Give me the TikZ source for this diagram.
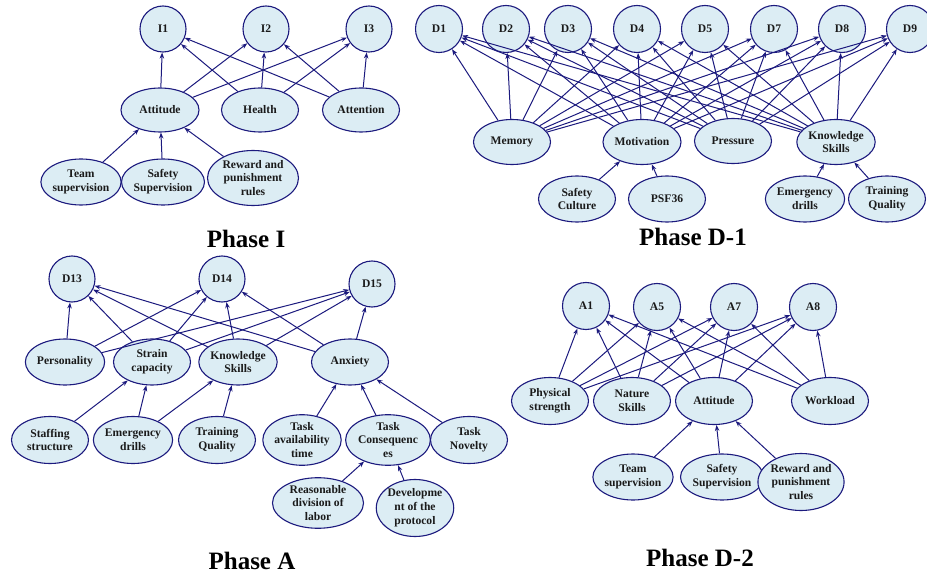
\documentclass[tikz,border=0pt]{standalone}
\usepackage{fontspec}
\setmainfont{Liberation Serif}
\usetikzlibrary{shapes.geometric,arrows.meta}
\definecolor{nodefill}{HTML}{DCEDF4}
\definecolor{navy}{HTML}{1C1A7E}
\definecolor{ink}{HTML}{1A1A1A}

\tikzset{
  var/.style={ellipse, draw=navy, fill=nodefill, line width=1.1pt,
    minimum width=77pt, minimum height=46pt, inner sep=0pt, align=center,
    font=\fontsize{11.6}{13.8}\selectfont\bfseries, text=ink},
  tgt/.style={circle, draw=navy, fill=nodefill, line width=1.1pt,
    minimum size=46pt, inner sep=0pt,
    font=\fontsize{11.6}{13.8}\selectfont\bfseries, text=ink},
  link/.style={draw=navy, line width=1pt, -{Stealth[length=6pt,width=4.5pt]}},
  phasetitle/.style={font=\fontsize{25}{30}\selectfont\bfseries, text=black}
}

\begin{document}
\begin{tikzpicture}[x=1pt,y=-1pt]
\useasboundingbox[fill=white] (0,0) rectangle (927,575);

% ---------------- Phase I ----------------
\node[tgt] (i1) at (163,29) {I1};
\node[tgt] (i2) at (266,29) {I2};
\node[tgt] (i3) at (369,29) {I3};
\node[var, minimum width=78pt, minimum height=44pt] (iatt) at (160,110) {Attitude};
\node[var, minimum height=44pt] (ihea) at (260,110) {Health};
\node[var, minimum height=44pt] (iatn) at (361,110) {Attention};
\node[var] (iteam) at (81,182) {Team\\supervision};
\node[var] (isafe) at (163,182) {Safety\\Supervision};
\node[var, minimum width=91pt, minimum height=55pt] (irew) at (253,178) {Reward and\\punishment\\rules};
\node[phasetitle] (tI) at (246,239) {Phase I};
\foreach \s in {iatt,ihea,iatn}
  \foreach \t in {i1,i2,i3}
    \draw[link] (\s) -- (\t);
\foreach \s in {iteam,isafe,irew}
  \draw[link] (\s) -- (iatt);

% ---------------- Phase D-1 ----------------
\node[tgt, minimum size=47pt] (d1) at (439,29) {D1};
\node[tgt, minimum size=47pt] (d2) at (506,29) {D2};
\node[tgt, minimum size=47pt] (d3) at (568,29) {D3};
\node[tgt, minimum size=47pt] (d4) at (637,29) {D4};
\node[tgt, minimum size=47pt] (d5) at (705,29) {D5};
\node[tgt, minimum size=47pt] (d7) at (774,29) {D7};
\node[tgt, minimum size=47pt] (d8) at (842,29) {D8};
\node[tgt, minimum size=47pt] (d9) at (910,29) {D9};
\node[var, minimum height=45pt] (dmem) at (512,142) {Memory};
\node[var, minimum width=78pt, minimum height=45pt] (dmot) at (642,142) {Motivation};
\node[var, minimum height=45pt] (dpre) at (733,141) {Pressure};
\node[var, minimum height=45pt] (dks) at (836,142) {Knowledge\\Skills};
\node[var] (dsc) at (577,199) {Safety\\Culture};
\node[var] (dpsf) at (667,199) {PSF36};
\node[var] (dem) at (805,199) {Emergency\\drills};
\node[var] (dtq) at (887,199) {Training\\Quality};
\node[phasetitle] (tD1) at (693,237) {Phase D-1};
\foreach \s in {dmem,dmot,dpre,dks}
  \foreach \t in {d1,d2,d3,d4,d5,d7,d8,d9}
    \draw[link] (\s) -- (\t);
\draw[link] (dsc) -- (dmot);
\draw[link] (dpsf) -- (dmot);
\draw[link] (dem) -- (dks);
\draw[link] (dtq) -- (dks);

% ---------------- Phase A ----------------
\node[tgt] (a13) at (72,279) {D13};
\node[tgt] (a14) at (222,279) {D14};
\node[tgt] (a15) at (372,284) {D15};
\node[var] (aper) at (65,362) {Personality};
\node[var] (astr) at (152,362) {Strain\\capacity};
\node[var] (aks) at (238,362) {Knowledge\\Skills};
\node[var] (aanx) at (350,362) {Anxiety};
\node[var, minimum height=47pt] (astaff) at (50,440) {Staffing\\structure};
\node[var, minimum height=47pt] (aem) at (133,440) {Emergency\\drills};
\node[var, minimum height=47pt] (atq) at (217,440) {Training\\Quality};
\node[var, minimum height=47pt] (atat) at (302,440) {Task\\availability\\time};
\node[var, minimum height=47pt] (atc) at (388,440) {Task\\Consequenc\\es};
\node[var, minimum height=47pt] (atn) at (469,440) {Task\\Novelty};
\node[var, minimum width=91pt, minimum height=47pt] (arda) at (318,503) {Reasonable\\division of\\labor};
\node[var, minimum height=57pt] (adev) at (415,508) {Developme\\nt of the\\protocol};
\node[phasetitle] (tA) at (252,561) {Phase A};
\foreach \s in {aper,astr,aks,aanx}
  \foreach \t in {a13,a14,a15}
    \draw[link] (\s) -- (\t);
\draw[link] (astaff) -- (astr);
\draw[link] (aem) -- (astr);
\draw[link] (aem) -- (aks);
\draw[link] (atq) -- (aks);
\draw[link] (atat) -- (aanx);
\draw[link] (atc) -- (aanx);
\draw[link] (atn) -- (aanx);
\draw[link] (arda) -- (atc);
\draw[link] (adev) -- (atc);

% ---------------- Phase D-2 ----------------
\node[tgt, minimum size=47pt] (b1) at (586,306) {A1};
\node[tgt, minimum size=47pt] (b5) at (657,307) {A5};
\node[tgt, minimum size=47pt] (b7) at (734,307) {A7};
\node[tgt, minimum size=47pt] (b8) at (813,307) {A8};
\node[var, minimum height=47pt] (bphy) at (550,401) {Physical\\strength};
\node[var, minimum height=47pt] (bnat) at (632,401) {Nature\\Skills};
\node[var, minimum height=47pt] (batt) at (714,401) {Attitude};
\node[var, minimum height=47pt] (bwl) at (830,401) {Workload};
\node[var] (bteam) at (633,477) {Team\\supervision};
\node[var] (bsafe) at (722,477) {Safety\\Supervision};
\node[var, minimum height=57pt] (brew) at (801,482) {Reward and\\punishment\\rules};
\node[phasetitle] (tD2) at (700,558) {Phase D-2};
\foreach \s in {bphy,bnat,batt,bwl}
  \foreach \t in {b1,b5,b7,b8}
    \draw[link] (\s) -- (\t);
\foreach \s in {bteam,bsafe,brew}
  \draw[link] (\s) -- (batt);
\end{tikzpicture}
\end{document}
